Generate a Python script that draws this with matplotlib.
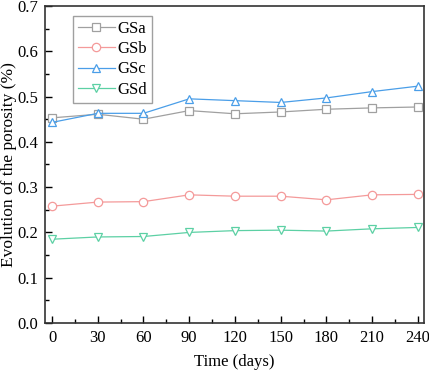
import numpy as np
import matplotlib.pyplot as plt
from matplotlib.ticker import MultipleLocator

plt.rcParams['font.family'] = ['Liberation Serif', 'DejaVu Serif']

days = [0, 30, 60, 90, 120, 150, 180, 210, 240]
gsa = [0.453, 0.461, 0.450, 0.469, 0.462, 0.466, 0.472, 0.475, 0.477]
gsb = [0.258, 0.267, 0.268, 0.283, 0.280, 0.280, 0.272, 0.283, 0.284]
gsc = [0.443, 0.463, 0.463, 0.495, 0.491, 0.487, 0.497, 0.511, 0.523]
gsd = [0.185, 0.190, 0.191, 0.200, 0.204, 0.205, 0.203, 0.208, 0.211]

fig = plt.figure(figsize=(4.29, 3.73), dpi=100)
ax = fig.add_axes([45/429, 50/373, 379/429, 317/373])

styles = [
    (gsa, 'GSa', 's', '#a0a0a0'),
    (gsb, 'GSb', 'o', '#f49a9a'),
    (gsc, 'GSc', '^', '#4a9ee8'),
    (gsd, 'GSd', 'v', '#5cd0a4'),
]
for vals, name, mk, col in styles:
    ax.plot(days, vals, marker=mk, color=col, lw=0.9, ms=6,
            mfc='white', mec=col, mew=0.9, label=name)

ax.set_xlim(-4.6, 244)
ax.set_ylim(0, 0.7)
ax.xaxis.set_major_locator(MultipleLocator(30))
ax.xaxis.set_minor_locator(MultipleLocator(15))
ax.yaxis.set_major_locator(MultipleLocator(0.1))
ax.yaxis.set_minor_locator(MultipleLocator(0.05))
ax.yaxis.set_major_formatter(plt.FormatStrFormatter('%.1f'))
ax.tick_params(which='both', direction='in', labelsize=12, width=1)
ax.tick_params(which='major', length=5, pad=5)
ax.tick_params(which='minor', length=3)
for s in ax.spines.values():
    s.set_linewidth(1.2)
    s.set_color('#333333')

ax.set_xlabel('Time (days)', fontsize=12)
ax.set_ylabel('Evolution of the porosity (%)', fontsize=12.5)
ax.yaxis.set_label_coords(-0.074, 0.5)
ax.xaxis.set_label_coords(0.5, -0.098)
leg = ax.legend(loc='upper left', bbox_to_anchor=(0.074, 0.968), fontsize=12,
                fancybox=False, edgecolor='#888888', handlelength=2.2,
                borderpad=0.3, labelspacing=0.25, handletextpad=0.15,
                borderaxespad=0)

fig.savefig('out.png', dpi=100)
